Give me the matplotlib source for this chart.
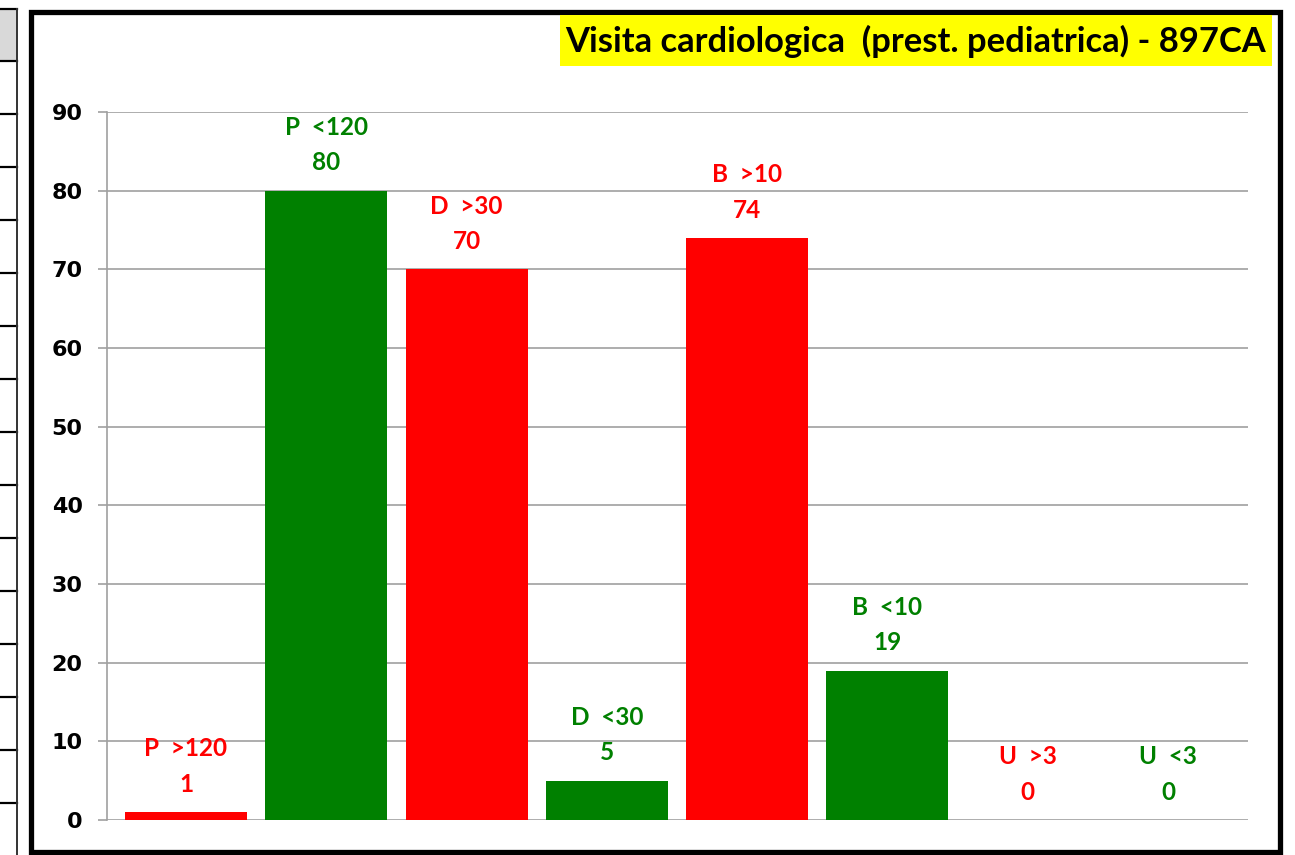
import matplotlib
matplotlib.use('Agg')
import matplotlib.pyplot as plt
from matplotlib.patches import Rectangle
from matplotlib.lines import Line2D

title = 'Visita cardiologica  (prest. pediatrica) - 897CA'
categories = ['P  >120', 'P  <120', 'D  >30', 'D  <30', 'B  >10', 'B  <10', 'U  >3', 'U  <3']
values = [1, 80, 70, 5, 74, 19, 0, 0]
bar_colors = ['#ff0000', '#008000'] * 4
yticks = [0, 10, 20, 30, 40, 50, 60, 70, 80, 90]

W, H = 1295, 855
fig = plt.figure(figsize=(W / 100, H / 100), dpi=100, facecolor='white')


def fx(px):
    return px / W


def fy(py):
    return 1 - py / H


# spreadsheet strip on the left
fig.patches.append(Rectangle((fx(0), fy(61)), fx(17), 52 / H, transform=fig.transFigure,
                             facecolor='#d9d9d9', edgecolor='none'))
for yy in [9] + [61 + 53 * k for k in range(15)]:
    fig.add_artist(Line2D([fx(0), fx(17)], [fy(yy), fy(yy)], color='black', lw=1.6))
fig.add_artist(Line2D([fx(17), fx(17)], [fy(9), fy(855)], color='#333333', lw=1.4))

# chart frame
fig.patches.append(Rectangle((fx(31), fy(852)), fx(1280 - 31), 840 / H, transform=fig.transFigure,
                             facecolor='none', edgecolor='black', lw=3.8))

# title box
fig.patches.append(Rectangle((fx(560), fy(66)), fx(1272 - 560), 51 / H, transform=fig.transFigure,
                             facecolor='#ffff00', edgecolor='none'))
fig.text(fx(916), fy(41), title, ha='center', va='center', fontsize=24.8, fontweight='bold',
         family='Lato')

ax = fig.add_axes([fx(107), fy(820), fx(1248 - 107), (820 - 112) / H])
ax.set_zorder(5)
x = range(len(categories))
ax.bar(x, values, width=0.87, color=bar_colors, zorder=3)

for i, (cat, v, c) in enumerate(zip(categories, values, bar_colors)):
    ax.annotate(str(v), (i, v), xytext=(0, 20), textcoords='offset points',
                ha='center', va='center', color=c, fontsize=17.5, fontweight='bold', family='Lato')
    ax.annotate(cat, (i, v), xytext=(0, 45.5), textcoords='offset points',
                ha='center', va='center', color=c, fontsize=17.5, fontweight='bold', family='Lato')

ax.set_xlim(-0.563, 7.57)
ax.set_ylim(0, 90)
ax.set_yticks(yticks)
ax.set_xticks([])
ax.yaxis.grid(True, color='#a0a0a0', lw=1.2)
ax.set_axisbelow(True)
for s in ['top', 'right', 'bottom']:
    ax.spines[s].set_visible(False)
ax.spines['left'].set_color('#a0a0a0')
ax.spines['left'].set_linewidth(1.2)
ax.tick_params(axis='y', direction='out', length=6.5, width=1.2, color='#a0a0a0', pad=11,
               labelsize=16)
for lbl in ax.get_yticklabels():
    lbl.set_fontweight('bold')
ax.patch.set_visible(False)

fig.savefig('out.png', dpi=100)
